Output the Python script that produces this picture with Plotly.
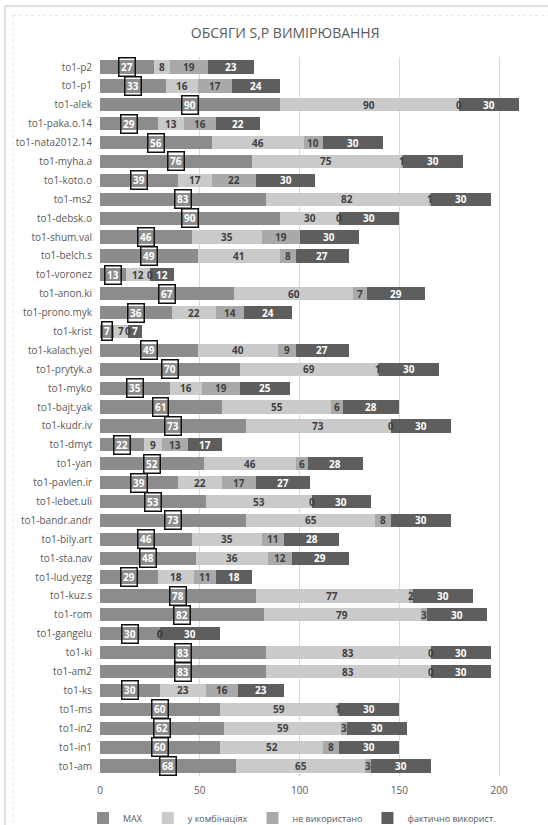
import plotly.graph_objects as go

# Measurement volumes per configuration
categories = [
    "to1-p2", "to1-p1", "to1-alek", "to1-paka.o.14", "to1-nata2012.14",
    "to1-myha.a", "to1-koto.o", "to1-ms2", "to1-debsk.o", "to1-shum.val",
    "to1-belch.s", "to1-voronez", "to1-anon.ki", "to1-prono.myk", "to1-krist",
    "to1-kalach.yel", "to1-prytyk.a", "to1-myko", "to1-bajt.yak", "to1-kudr.iv",
    "to1-dmyt", "to1-yan", "to1-pavlen.ir", "to1-lebet.uli", "to1-bandr.andr",
    "to1-bily.art", "to1-sta.nav", "to1-lud.yezg", "to1-kuz.s", "to1-rom",
    "to1-gangelu", "to1-ki", "to1-am2", "to1-ks", "to1-ms",
    "to1-in2", "to1-in1", "to1-am",
]
max_vals = [27, 33, 90, 29, 56, 76, 39, 83, 90, 46, 49, 13, 67, 36, 7,
            49, 70, 35, 61, 73, 22, 52, 39, 53, 73, 46, 48, 29, 78, 82,
            30, 83, 83, 30, 60, 62, 60, 68]
in_combos = [8, 16, 90, 13, 46, 75, 17, 82, 30, 35, 41, 12, 60, 22, 7,
             40, 69, 16, 55, 73, 9, 46, 22, 53, 65, 35, 36, 18, 77, 79,
             0, 83, 83, 23, 59, 59, 52, 65]
unused = [19, 17, 0, 16, 10, 1, 22, 1, 0, 19, 8, 0, 7, 14, 0,
          9, 1, 19, 6, 0, 13, 6, 17, 0, 8, 11, 12, 11, 2, 3,
          0, 0, 0, 16, 1, 3, 8, 3]
actually_used = [23, 24, 30, 22, 30, 30, 30, 30, 30, 30, 27, 12, 29, 24, 7,
                 27, 30, 25, 28, 30, 17, 28, 27, 30, 30, 28, 29, 18, 30, 30,
                 30, 30, 30, 23, 30, 30, 30, 30]

series_names = ["MAX", "у комбінаціях", "не використано", "фактично використ."]
series_vals = [max_vals, in_combos, unused, actually_used]
colors = ["#8c8c8c", "#cacaca", "#a9a9a9", "#5e5e5e"]
label_colors = ["#ffffff", "#404040", "#404040", "#ffffff"]

FONT = "Open Sans, sans-serif"

fig = go.Figure()
for name, vals, col in zip(series_names, series_vals, colors):
    fig.add_trace(go.Bar(
        y=categories, x=vals, name=name, orientation="h",
        marker=dict(color=col, line=dict(width=0)),
        hoverinfo="x+y+name",
    ))

# Value labels centred in each segment; MAX labels get a black frame
annotations = []
for i, cat in enumerate(categories):
    start = 0
    for s, vals in enumerate(series_vals):
        v = vals[i]
        ann = dict(
            x=start + v / 2, y=cat, xref="x", yref="y",
            text=f"<b>{v}</b>", showarrow=False,
            font=dict(family=FONT, size=10, color=label_colors[s]),
        )
        if s == 0:
            ann.update(bordercolor="#111111", borderwidth=1.5, borderpad=1.5)
        annotations.append(ann)
        start += v

# Plot-area geometry in pixels
L, T, W, H = 100, 56.5, 418.6, 720.0
def px(x):
    return (x - L) / W
def py(y):
    return (T + H - y) / H

# Left / top border lines of the chart frame
shapes = [
    dict(type="line", xref="paper", yref="paper", x0=px(5), x1=px(560), y0=py(5.5), y1=py(5.5),
         line=dict(color="#d6d6d6", width=1.5)),
    dict(type="line", xref="paper", yref="paper", x0=px(5), x1=px(5), y0=py(5.5), y1=py(830),
         line=dict(color="#d6d6d6", width=1.5)),
    dict(type="line", xref="paper", yref="paper", x0=px(13), x1=px(560), y0=py(15), y1=py(15),
         line=dict(color="#e6e6e6", width=1, dash="dot")),
    dict(type="line", xref="paper", yref="paper", x0=px(13), x1=px(13), y0=py(15), y1=py(830),
         line=dict(color="#e6e6e6", width=1, dash="dot")),
]

fig.update_layout(
    barmode="stack",
    bargap=0.3,
    width=548, height=825,
    margin=dict(l=L, r=548 - L - W, t=T, b=825 - T - H, pad=0, autoexpand=False),
    paper_bgcolor="#ffffff", plot_bgcolor="#ffffff",
    font=dict(family=FONT, size=10, color="#595959"),
    title=dict(text="ОБСЯГИ S,P ВИМІРЮВАННЯ", x=px(285), xref="paper", xanchor="center",
               y=1 - 33 / 825, yanchor="middle",
               font=dict(family=FONT, size=14, color="#595959")),
    xaxis=dict(range=[0, 210], tickvals=[0, 50, 100, 150, 200], showgrid=True,
               gridcolor="#d9d9d9", gridwidth=1, zeroline=False, showline=False,
               ticks="", ticklabelstandoff=7, tickfont=dict(size=10, color="#595959")),
    yaxis=dict(autorange="reversed", showgrid=False, showline=False, ticks="",
               tickfont=dict(size=10, color="#595959"), ticklabelstandoff=7),
    legend=dict(orientation="h", xref="container", yref="container",
                x=292 / 548, xanchor="center", y=1 - 818 / 825, yanchor="middle",
                font=dict(size=9, color="#595959"), itemwidth=30,
                traceorder="normal", itemclick=False, tracegroupgap=0),
    annotations=annotations,
    shapes=shapes,
    showlegend=True,
)

fig.write_html("out.html")
